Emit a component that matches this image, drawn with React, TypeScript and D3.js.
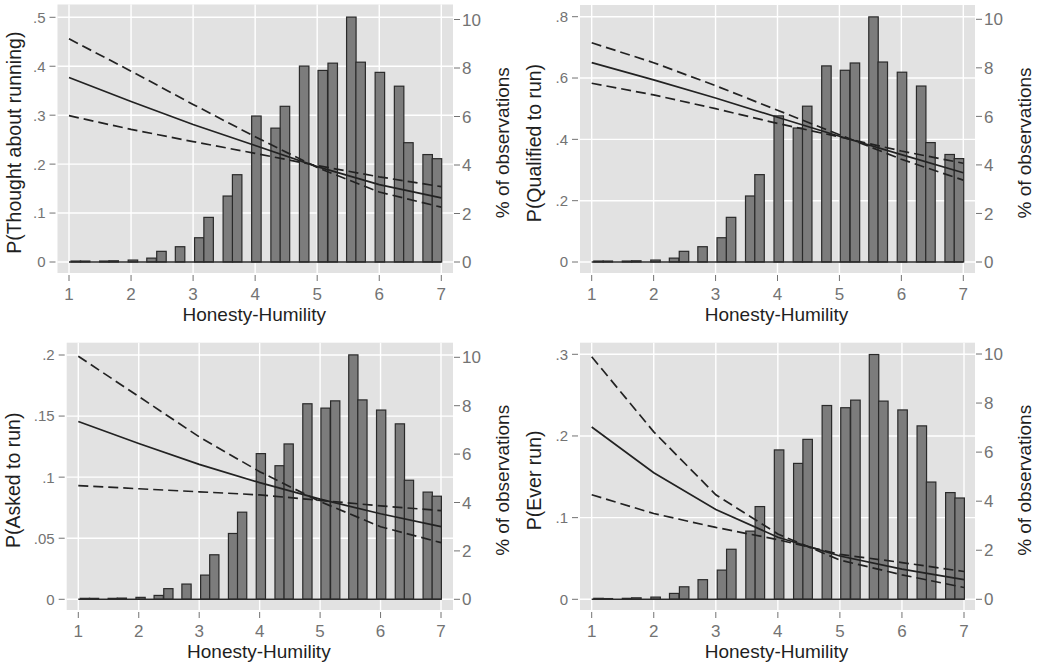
import * as d3 from "d3";

// Honesty-Humility axis
const hhTicks = [1, 2, 3, 4, 5, 6, 7];
const fitX = [1, 2, 3, 4, 5, 6, 7];

// histogram bins (non-empty), centre of each bin, % of observations
const binCenters = [
    1.11, 1.26, 1.57, 1.72, 2.03, 2.33, 2.49, 2.79, 3.1, 3.25, 3.56, 3.71, 4.02,
    4.33, 4.48, 4.79, 5.09, 5.25, 5.55, 5.7, 6.01, 6.32, 6.47, 6.78, 6.93,
];
const binWidth = 0.153;
const pctAll = [
    0.04, 0.04, 0.04, 0.05, 0.08, 0.16, 0.44, 0.63, 1.0, 1.84, 2.72, 3.6, 6.02,
    5.52, 6.42, 8.08, 7.9, 8.2, 10.1, 8.24, 7.82, 7.25, 4.92, 4.43, 4.26,
];
const pctEverRun = [
    0.04, 0.03, 0.04, 0.06, 0.09, 0.24, 0.51, 0.8, 1.19, 2.04, 2.78, 3.78, 6.09,
    5.54, 6.52, 7.9, 7.81, 8.12, 9.98, 8.08, 7.72, 7.07, 4.78, 4.35, 4.13,
];
const pctTicks = [0, 2, 4, 6, 8, 10];

// predicted probabilities (fit) and the two bound curves
const thoughtFit = [0.377, 0.328, 0.281, 0.238, 0.195, 0.158, 0.131];
const thoughtA = [0.456, 0.39, 0.322, 0.256, 0.193, 0.143, 0.112];
const thoughtB = [0.299, 0.271, 0.246, 0.222, 0.197, 0.174, 0.154];
const thoughtTicks = [0, 0.1, 0.2, 0.3, 0.4, 0.5];

const qualFit = [0.65, 0.594, 0.535, 0.472, 0.41, 0.35, 0.291];
const qualA = [0.715, 0.65, 0.575, 0.495, 0.415, 0.335, 0.267];
const qualB = [0.583, 0.545, 0.5, 0.452, 0.408, 0.362, 0.322];
const qualTicks = [0, 0.2, 0.4, 0.6, 0.8];

const askedFit = [0.1455, 0.1275, 0.1105, 0.0955, 0.082, 0.07, 0.0595];
const askedA = [0.199, 0.166, 0.133, 0.1045, 0.08, 0.0594, 0.0464];
const askedB = [0.093, 0.0905, 0.088, 0.0855, 0.081, 0.0765, 0.0726];
const askedTicks = [0, 0.05, 0.1, 0.15, 0.2];

const everFit = [0.211, 0.155, 0.11, 0.076, 0.053, 0.037, 0.024];
const everA = [0.297, 0.205, 0.128, 0.08, 0.048, 0.03, 0.0145];
const everB = [0.128, 0.105, 0.088, 0.073, 0.055, 0.045, 0.034];
const everTicks = [0, 0.1, 0.2, 0.3];

const FONT = "'Liberation Sans', Arial, Helvetica, sans-serif";
const TICK_COLOR = "#737373";
const TITLE_COLOR = "#1f1f1f";

type Frame = {
    gx0: number;
    gx1: number;
    gy0: number;
    gy1: number;
    xa: number;
    xb: number;
    y0: number;
    yTop: number;
    yRTop: number;
};

type PanelProps = {
    frame: Frame;
    title: string;
    yMax: number;
    yTicks: number[];
    pct: number[];
    fit: number[];
    boundA: number[];
    boundB: number[];
    titleX: number;
    rightTitleX: number;
};

const fmtProb = (v: number) =>
    v === 0 ? "0" : d3.format(".2~f")(v).replace(/^0/, "");

function Panel({
    frame,
    title,
    yMax,
    yTicks,
    pct,
    fit,
    boundA,
    boundB,
    titleX,
    rightTitleX,
}: PanelProps) {
    const { gx0, gx1, gy0, gy1 } = frame;
    const x = d3.scaleLinear().domain([1, 7]).range([frame.xa, frame.xb]);
    const yL = d3.scaleLinear().domain([0, yMax]).range([frame.y0, frame.yTop]);
    const yR = d3.scaleLinear().domain([0, 10]).range([frame.y0, frame.yRTop]);

    const line = d3
        .line<number>()
        .x((_, i) => x(fitX[i]))
        .y((d) => yL(d));

    const midY = (gy0 + gy1) / 2 + 4;

    return (
        <g>
            <rect x={gx0} y={gy0} width={gx1 - gx0} height={gy1 - gy0} fill="#e2e2e2" />

            {/* grid */}
            {yTicks.map((t, i) => (
                <line key={"gy" + i} x1={gx0} x2={gx1} y1={yL(t)} y2={yL(t)} stroke="#fff" strokeWidth={1.4} />
            ))}
            {hhTicks.map((t, i) => (
                <line key={"gx" + i} x1={x(t)} x2={x(t)} y1={gy0} y2={gy1} stroke="#fff" strokeWidth={1.4} />
            ))}

            {/* histogram */}
            {binCenters.map((c, i) => {
                const l = x(c - binWidth / 2);
                const r = x(c + binWidth / 2);
                return (
                    <rect
                        key={"b" + i}
                        x={l}
                        y={yR(pct[i])}
                        width={r - l}
                        height={yR(0) - yR(pct[i])}
                        fill="#7c7c7c"
                        stroke="#2a2a2a"
                        strokeWidth={1.2}
                    />
                );
            })}
            <line x1={x(1)} x2={x(7)} y1={yR(0)} y2={yR(0)} stroke="#2a2a2a" strokeWidth={1.4} />

            {/* fitted curves */}
            <path d={line(boundA) ?? ""} fill="none" stroke="#222" strokeWidth={1.7} strokeDasharray="10 5" />
            <path d={line(boundB) ?? ""} fill="none" stroke="#222" strokeWidth={1.7} strokeDasharray="10 5" />
            <path d={line(fit) ?? ""} fill="none" stroke="#222" strokeWidth={1.7} />

            {/* left axis */}
            {yTicks.map((t, i) => (
                <g key={"l" + i}>
                    <line x1={gx0 - 8} x2={gx0 - 2} y1={yL(t)} y2={yL(t)} stroke={TICK_COLOR} strokeWidth={1} />
                    <text x={gx0 - 12} y={yL(t)} dy="0.36em" textAnchor="end" fontSize={15} fill={TICK_COLOR}>
                        {fmtProb(t)}
                    </text>
                </g>
            ))}

            {/* right axis */}
            {pctTicks.map((t, i) => (
                <g key={"r" + i}>
                    <line x1={gx1 + 1} x2={gx1 + 7} y1={yR(t)} y2={yR(t)} stroke={TICK_COLOR} strokeWidth={1} />
                    <text x={gx1 + 9} y={yR(t)} dy="0.36em" fontSize={17} fill={TICK_COLOR}>
                        {t}
                    </text>
                </g>
            ))}

            {/* bottom axis */}
            {hhTicks.map((t, i) => (
                <g key={"x" + i}>
                    <line x1={x(t)} x2={x(t)} y1={gy1 + 2} y2={gy1 + 8} stroke={TICK_COLOR} strokeWidth={1} />
                    <text x={x(t)} y={gy1 + 27} textAnchor="middle" fontSize={17} fill={TICK_COLOR}>
                        {t}
                    </text>
                </g>
            ))}
            <text x={(gx0 + gx1) / 2 - 1} y={gy1 + 48} textAnchor="middle" fontSize={19} fill={TITLE_COLOR}>
                Honesty-Humility
            </text>

            <text
                transform={`translate(${titleX},${midY}) rotate(-90)`}
                textAnchor="middle"
                fontSize={19.5}
                fill={TITLE_COLOR}
            >
                {title}
            </text>
            <text
                transform={`translate(${rightTitleX},${midY}) rotate(-90)`}
                textAnchor="middle"
                fontSize={19}
                fill={TITLE_COLOR}
            >
                % of observations
            </text>
        </g>
    );
}

const frames: Frame[] = [
    { gx0: 57.5, gx1: 453, gy0: 4.5, gy1: 273, xa: 69, xb: 441.3, y0: 262, yTop: 17.3, yRTop: 19.5 },
    { gx0: 580, gx1: 975, gy0: 5, gy1: 273, xa: 591.7, xb: 963.3, y0: 262, yTop: 16.7, yRTop: 19.3 },
    { gx0: 66.7, gx1: 453, gy0: 342.7, gy1: 610, xa: 78.3, xb: 441, y0: 599.3, yTop: 355, yRTop: 357.3 },
    { gx0: 580, gx1: 975, gy0: 342.7, gy1: 610, xa: 591.7, xb: 964, y0: 599.3, yTop: 354.3, yRTop: 354 },
];

export default function App() {
    return (
        <svg
            width={1039}
            height={664}
            style={{ position: "absolute", left: 0, top: 0, background: "#fff" }}
            fontFamily={FONT}
        >
            <Panel
                frame={frames[0]}
                title="P(Thought about running)"
                yMax={0.5}
                yTicks={thoughtTicks}
                pct={pctAll}
                fit={thoughtFit}
                boundA={thoughtA}
                boundB={thoughtB}
                titleX={21}
                rightTitleX={509}
            />
            <Panel
                frame={frames[1]}
                title="P(Qualified to run)"
                yMax={0.8}
                yTicks={qualTicks}
                pct={pctAll}
                fit={qualFit}
                boundA={qualA}
                boundB={qualB}
                titleX={541}
                rightTitleX={1031}
            />
            <Panel
                frame={frames[2]}
                title="P(Asked to run)"
                yMax={0.2}
                yTicks={askedTicks}
                pct={pctAll}
                fit={askedFit}
                boundA={askedA}
                boundB={askedB}
                titleX={20}
                rightTitleX={509}
            />
            <Panel
                frame={frames[3]}
                title="P(Ever run)"
                yMax={0.3}
                yTicks={everTicks}
                pct={pctEverRun}
                fit={everFit}
                boundA={everA}
                boundB={everB}
                titleX={541}
                rightTitleX={1031}
            />
        </svg>
    );
}
